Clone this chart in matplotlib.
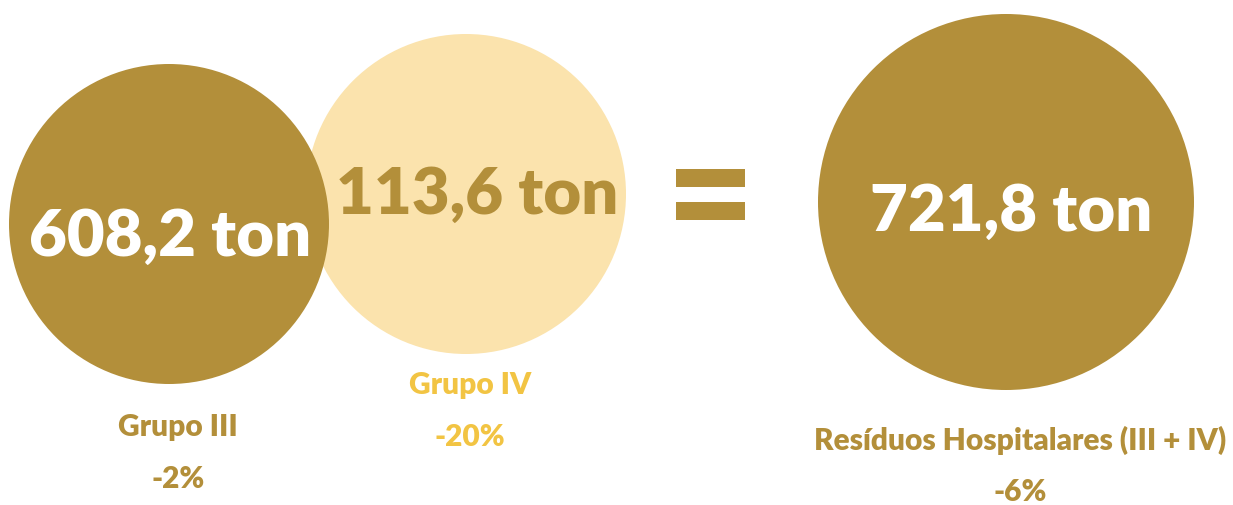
import matplotlib.pyplot as plt
from matplotlib.patches import Circle, Rectangle

# data
groups = ["Grupo III", "Grupo IV", "Resíduos Hospitalares (III + IV)"]
tons = [608.2, 113.6, 721.8]
changes = [-2, -20, -6]

GOLD = "#b38f3a"
LIGHT = "#fbe3ad"
YELLOW = "#f2c443"

# layout (pixels, y down)
centers = [(169, 225), (466, 195), (1006, 203)]
radii = [160, 160, 188]
fills = [GOLD, LIGHT, GOLD]
value_colors = ["white", GOLD, "white"]
value_xy = [(170, 237), (477, 195), (1011, 212)]
label_pos = [(178, 427), (470, 385), (1020, 440)]
label_colors = [GOLD, YELLOW, GOLD]
zorders = [3, 2, 3]

plt.rcParams['font.family'] = ['Lato', 'DejaVu Sans']

fig = plt.figure(figsize=(12.33, 5.06), dpi=100)
ax = fig.add_axes([0, 0, 1, 1])
ax.set_xlim(0, 1233)
ax.set_ylim(506, 0)
ax.set_aspect('equal')
ax.axis('off')

for i in range(3):
    ax.add_patch(Circle(centers[i], radii[i], color=fills[i], zorder=zorders[i], lw=0))
    txt = f"{tons[i]:.1f}".replace(".", ",") + " ton"
    ax.text(*value_xy[i], txt, color=value_colors[i], fontsize=47,
            fontweight='heavy', ha='center', va='center', zorder=5)
    lx, ly = label_pos[i]
    ax.text(lx, ly, groups[i], color=label_colors[i], fontsize=21.5, fontweight='heavy',
            ha='center', va='center')
    ax.text(lx, ly + 52, f"{changes[i]}%", color=label_colors[i], fontsize=21.5,
            fontweight='heavy', ha='center', va='center')

# equals sign
ax.add_patch(Rectangle((676, 170), 69, 18, color=GOLD, lw=0))
ax.add_patch(Rectangle((676, 203), 69, 18, color=GOLD, lw=0))

fig.savefig("out.png", dpi=100)
